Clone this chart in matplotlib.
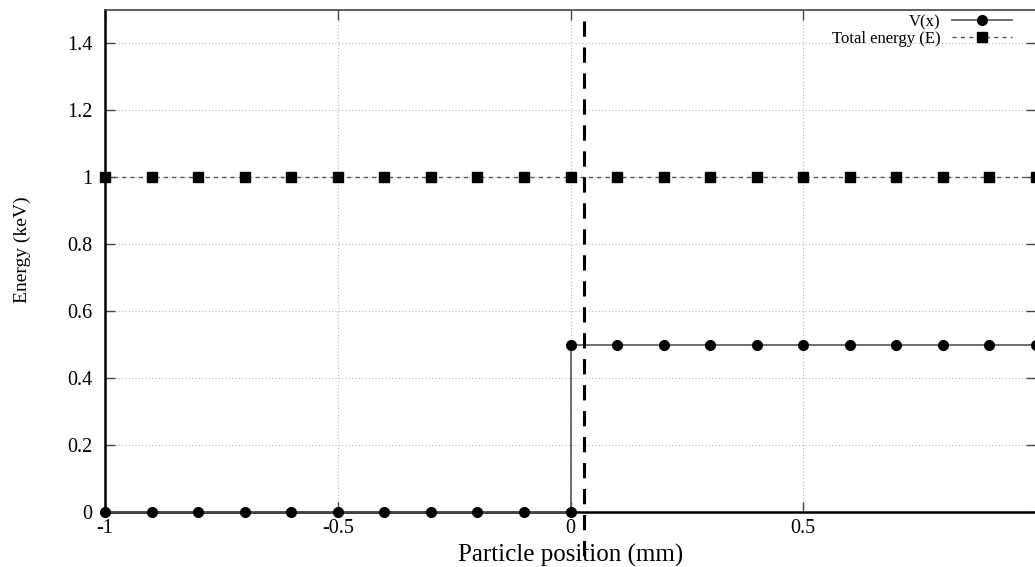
import matplotlib
matplotlib.use('Agg')
import matplotlib.pyplot as plt

plt.rcParams['font.family'] = ['Liberation Serif', 'DejaVu Serif']

# potential V(x): zero left of the step, 0.5 keV right of it
v_x = [-1.0, -0.9, -0.8, -0.7, -0.6, -0.5, -0.4, -0.3, -0.2, -0.1, 0.0,
       0.0, 0.1, 0.2, 0.3, 0.4, 0.5, 0.6, 0.7, 0.8, 0.9, 1.0]
v_y = [0.0, 0.0, 0.0, 0.0, 0.0, 0.0, 0.0, 0.0, 0.0, 0.0, 0.0,
       0.5, 0.5, 0.5, 0.5, 0.5, 0.5, 0.5, 0.5, 0.5, 0.5, 0.5]

# total energy E
e_x = [-1.0, -0.9, -0.8, -0.7, -0.6, -0.5, -0.4, -0.3, -0.2, -0.1, 0.0,
       0.1, 0.2, 0.3, 0.4, 0.5, 0.6, 0.7, 0.8, 0.9, 1.0]
e_y = [1.0, 1.0, 1.0, 1.0, 1.0, 1.0, 1.0, 1.0, 1.0, 1.0, 1.0,
       1.0, 1.0, 1.0, 1.0, 1.0, 1.0, 1.0, 1.0, 1.0, 1.0]

boundary_x = 0.028
x_ticks = [-1, -0.5, 0, 0.5]
x_tick_labels = ['-1', '-0.5', '0', '0.5']
y_ticks = [0, 0.2, 0.4, 0.6, 0.8, 1.0, 1.2, 1.4]
y_tick_labels = ['0', '0.2', '0.4', '0.6', '0.8', '1', '1.2', '1.4']

W, H = 1035, 567
fig = plt.figure(figsize=(W / 100, H / 100), dpi=100)
ax = fig.add_axes([105 / W, (H - 512) / H, (1036 - 105) / W, (512 - 9.5) / H])

ax.plot(v_x, v_y, color='#555555', lw=1.2, marker='o', ms=7,
        mfc='black', mec='black', label='V(x)', clip_on=False, zorder=4)
ax.plot(e_x, e_y, color='#555555', lw=1.0, ls=(0, (3, 3)), marker='s', ms=6.5,
        mfc='black', mec='black', label='Total energy (E)', clip_on=False, zorder=4)

# boundary marker, runs past the bottom of the axes
ax.plot([boundary_x, boundary_x], [1.466, -0.17], color='black', lw=2.2,
        ls=(0, (5, 3.5)), clip_on=False, zorder=5)

ax.set_xlim(-1, 1.0)
ax.set_ylim(0, 1.5)
ax.set_xticks(x_ticks)
ax.set_xticklabels(x_tick_labels)
ax.set_yticks(y_ticks)
ax.set_yticklabels(y_tick_labels)
ax.tick_params(direction='in', length=7, width=1, labelsize=14.5,
               top=True, right=True, color='#444444')
ax.tick_params(axis='y', pad=9)
ax.tick_params(axis='x', pad=5)
ax.grid(True, color='#bbbbbb', ls=(0, (1, 2)), lw=0.8)

for s in ['left', 'bottom']:
    ax.spines[s].set_linewidth(1.8)
    ax.spines[s].set_color('black')
ax.spines['top'].set_linewidth(1.2)
ax.spines['top'].set_color('#444444')

ax.set_xlabel('Particle position (mm)', fontsize=18, labelpad=4)
fig.text(22 / W, 1 - 250 / H, 'Energy (keV)', rotation=90, fontsize=14,
         ha='center', va='center')

ax.legend(loc='upper right', bbox_to_anchor=(1012 / W, (H - 14) / H),
          bbox_transform=fig.transFigure, frameon=False, markerfirst=False,
          numpoints=1, fontsize=12, handlelength=3.6, handletextpad=0.7,
          labelspacing=0.05, borderpad=0, borderaxespad=0)

fig.savefig('out.png', dpi=100)
